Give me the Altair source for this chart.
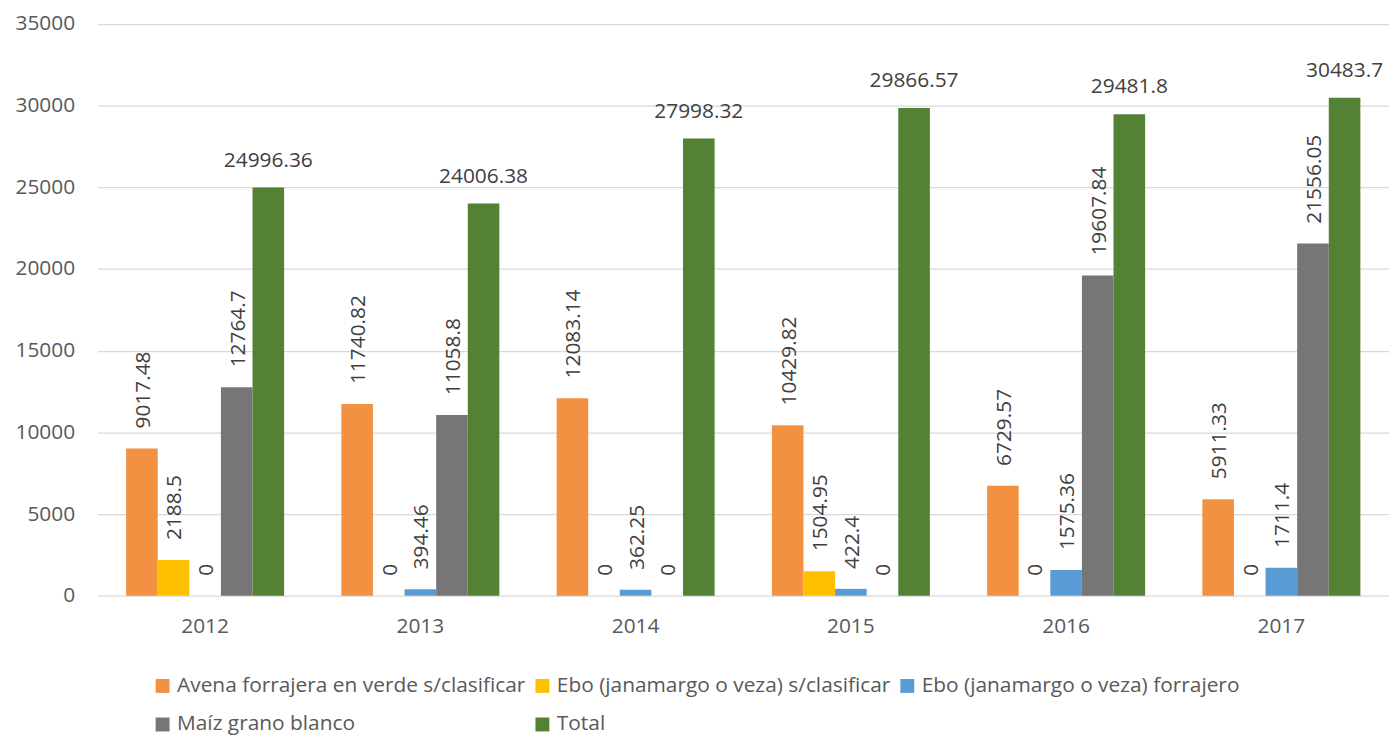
import altair as alt
import pandas as pd

years = ["2012", "2013", "2014", "2015", "2016", "2017"]
series = [
    "Avena forrajera en verde s/clasificar",
    "Ebo (janamargo o veza) s/clasificar",
    "Ebo (janamargo o veza) forrajero",
    "Maíz grano blanco",
    "Total",
]
colors = ["#F39143", "#FFC000", "#5B9BD5", "#767676", "#548235"]

avena = [9017.48, 11740.82, 12083.14, 10429.82, 6729.57, 5911.33]
ebo_sc = [2188.5, 0, 0, 1504.95, 0, 0]
ebo_forr = [0, 394.46, 362.25, 422.4, 1575.36, 1711.4]
maiz = [12764.7, 11058.8, 0, 0, 19607.84, 21556.05]
total = [24996.36, 24006.38, 27998.32, 29866.57, 29481.8, 30483.7]

values = [avena, ebo_sc, ebo_forr, maiz, total]


def fmt(v):
    s = ("%f" % v).rstrip("0").rstrip(".")
    return s


rows = []
for si, s in enumerate(series):
    for yi, y in enumerate(years):
        v = values[si][yi]
        rows.append({"year": y, "series": s, "value": v, "label": fmt(v)})
df = pd.DataFrame(rows)

FONT = "Open Sans"

x_enc = alt.X(
    "year:N",
    sort=years,
    scale=alt.Scale(paddingInner=0.266, paddingOuter=0.133),
    axis=alt.Axis(
        title=None,
        labelAngle=0,
        ticks=False,
        domain=False,
        labelPadding=20,
        labelFontSize=21,
        labelColor="#595959",
        labelFont=FONT,
        grid=False,
    ),
)
xo_enc = alt.XOffset("series:N", sort=series, scale=alt.Scale(domain=series, paddingInner=0, paddingOuter=0))
y_enc = alt.Y(
    "value:Q",
    scale=alt.Scale(domain=[0, 35000], nice=False),
    axis=alt.Axis(
        title=None,
        values=[0, 5000, 10000, 15000, 20000, 25000, 30000, 35000],
        format="d",
        ticks=False,
        domain=False,
        labelPadding=23,
        labelFontSize=21,
        labelColor="#595959",
        labelFont=FONT,
        gridColor="#D9D9D9",
        gridWidth=1.3,
    ),
)

bars = alt.Chart(df).mark_bar().encode(
    x=x_enc,
    xOffset=xo_enc,
    y=y_enc,
    color=alt.Color(
        "series:N",
        sort=series,
        scale=alt.Scale(domain=series, range=colors),
        legend=alt.Legend(
            title=None,
            orient="none",
            legendX=55,
            legendY=655,
            direction="horizontal",
            columns=3,
            columnPadding=6,
            rowPadding=17,
            symbolType="square",
            symbolSize=196,
            symbolStrokeWidth=0,
            labelFontSize=21,
            labelFont=FONT,
            labelColor="#595959",
            labelOffset=4,
            labelLimit=600,
        ),
    ),
)

rot_labels = alt.Chart(df).transform_filter(
    alt.datum.series != "Total"
).mark_text(
    angle=270, align="left", baseline="middle", dx=20, dy=2, fontSize=21, font=FONT, color="#404040"
).encode(
    x=alt.X("year:N", sort=years),
    xOffset=alt.XOffset("series:N", sort=series),
    y="value:Q",
    text="label:N",
)

tot_labels = alt.Chart(df).transform_filter(
    alt.datum.series == "Total"
).mark_text(
    align="center", baseline="bottom", dy=-17, fontSize=21, font=FONT, color="#404040"
).encode(
    x=alt.X("year:N", sort=years),
    xOffset=alt.XOffset("series:N", sort=series),
    y="value:Q",
    text="label:N",
)

chart = alt.layer(bars, rot_labels, tot_labels).properties(
    width=1299,
    height=575,
    autosize=alt.AutoSizeParams(type="none"),
    padding={"left": 90, "top": 14, "right": 0, "bottom": 143},
    background="white",
).configure_view(stroke=None)

chart.save("out.html", embed_options={"renderer": "svg", "actions": False})
